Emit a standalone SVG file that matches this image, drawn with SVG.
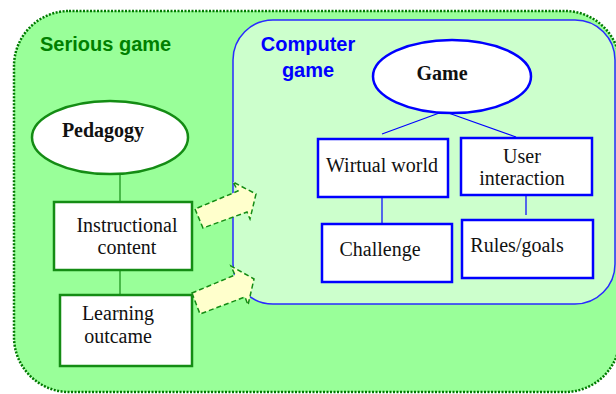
<svg xmlns="http://www.w3.org/2000/svg" width="616" height="394" viewBox="0 0 616 394">
<style>
.gbox{fill:#fff;stroke:#148c14;stroke-width:2.5}
.bbox{fill:#fff;stroke:#0000ff;stroke-width:2.5}
.t{font-family:"Liberation Serif","Times New Roman",serif;font-size:20px;fill:#111;text-anchor:middle}
.tb{font-family:"Liberation Serif","Times New Roman",serif;font-size:20px;font-weight:bold;fill:#111;text-anchor:middle}
.h{font-family:"Liberation Sans",Arial,sans-serif;font-size:20px;font-weight:bold}
.arrow{fill:#ffffcc;stroke:#148c14;stroke-width:1.5;stroke-dasharray:5 3}
.gl{stroke:#148c14;stroke-width:1.2;fill:none}
.bl{stroke:#0000ff;stroke-width:1.2;fill:none}
</style>
<rect width="616" height="394" fill="#ffffff"/>
<g id="serious-game">
<rect x="14" y="11" width="606" height="381" rx="55" ry="55" fill="#99ff99" stroke="#007a00" stroke-width="2.5" stroke-dasharray="2 1.5"/>
<text class="h" x="40" y="51" fill="#008000">Serious game</text>
</g>
<g id="computer-game">
<rect x="233" y="20" width="382" height="284" rx="40" ry="40" fill="#ccffcc" stroke="#2a2aff" stroke-width="1.5"/>
<text class="h" x="308" y="51" fill="#0000ff" text-anchor="middle">Computer</text>
<text class="h" x="308" y="77" fill="#0000ff" text-anchor="middle">game</text>
</g>
<g id="connectors">
<line class="gl" x1="120" y1="174" x2="120" y2="202"/>
<line class="gl" x1="120" y1="270" x2="120" y2="295"/>
<line class="bl" x1="442" y1="112" x2="382" y2="134"/>
<line class="bl" x1="440" y1="110" x2="516" y2="137"/>
<line class="bl" x1="382" y1="197" x2="382" y2="223"/>
<line class="bl" x1="526" y1="195" x2="526" y2="215"/>
</g>
<g id="pedagogy">
<ellipse cx="110" cy="137.5" rx="78" ry="36.5" class="gbox"/>
<text class="tb" x="103" y="137">Pedagogy</text>
</g>
<g id="instructional-content">
<rect x="54" y="202" width="138" height="68" class="gbox"/>
<text class="t" x="127" y="231.5">Instructional</text>
<text class="t" x="127" y="254">content</text>
</g>
<g id="learning-outcame">
<rect x="60" y="295" width="132" height="71" class="gbox"/>
<text class="t" x="118" y="320">Learning</text>
<text class="t" x="118" y="343">outcame</text>
</g>
<g id="game">
<ellipse cx="452" cy="76.5" rx="79" ry="36.5" class="bbox"/>
<text class="tb" x="442" y="80">Game</text>
</g>
<g id="wirtual-world">
<rect x="318" y="139" width="130" height="58" class="bbox"/>
<text class="t" x="382" y="172">Wirtual world</text>
</g>
<g id="user-interaction">
<rect x="461" y="138" width="131" height="57" class="bbox"/>
<text class="t" x="522" y="163">User</text>
<text class="t" x="522" y="185">interaction</text>
</g>
<g id="challenge">
<rect x="322" y="224" width="130" height="58" class="bbox"/>
<text class="t" x="380" y="256">Challenge</text>
</g>
<g id="rules-goals">
<rect x="462" y="220" width="131" height="58" class="bbox"/>
<text class="t" x="517" y="252">Rules/goals</text>
</g>
<g id="arrow-1">
<polygon class="arrow" points="195,209 203,228 247,212 250,219 256,194 233,182 238,191"/>
</g>
<g id="arrow-2">
<polygon class="arrow" points="192,293 200,314 245,297 248,305 254,279 231,266 235,275"/>
</g>
</svg>
